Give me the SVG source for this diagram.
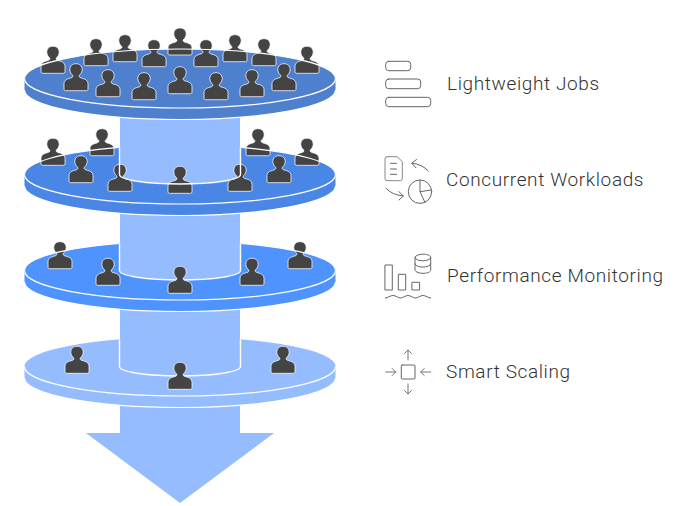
<svg xmlns="http://www.w3.org/2000/svg" width="697" height="506" viewBox="0 0 697 506">
<style>
.p{fill:#444;stroke:#fff;stroke-width:1;stroke-opacity:.75}
.rim{fill:none;stroke:#fff;stroke-width:1.2}
.cyl{fill:#94bcff;stroke:none}
.edge{fill:none;stroke:#fff;stroke-width:1.4}
.ic{fill:none;stroke:#666;stroke-width:1;stroke-linecap:round;stroke-linejoin:round}
.t{font-family:Roboto,"Liberation Sans",sans-serif;font-size:19px;font-weight:300;letter-spacing:.62px;fill:#333}
</style>
<defs>
<path id="person" class="p" d="M-12 -1.500V-7C-12 -11 -8 -12 -5 -12.800C-3.500 -13.200 -3 -14 -3 -15C-5 -16.500 -6.200 -19 -6.200 -21C-6.200 -25 -3.500 -27 0 -27C3.500 -27 6.200 -25 6.200 -21C6.200 -19 5 -16.500 3 -15C3 -14 3.500 -13.200 5 -12.800C8 -12 12 -11 12 -7V-1.500Q12 0 10.500 0H-10.500Q-12 0 -12 -1.500Z"/>
<path id="side" d="M24.500 0V11.500A155.500 29.500 0 0 0 335.500 11.500V0Z"/>
<ellipse id="top" cx="180" cy="0" rx="155.500" ry="29.500"/>
<path id="front" class="rim" d="M24.500 0A155.500 29.500 0 0 0 335.500 0"/>
<path id="bottom" class="rim" d="M24.500 11.500A155.500 29.500 0 0 0 335.500 11.500"/>
<path id="back" class="rim" d="M24.500 0A155.500 29.500 0 0 1 119 -27.100M241 -27.100A155.500 29.500 0 0 1 335.500 0"/>
<path id="shaft" class="edge" d="M119.500 -27.100V0A60.500 9.500 0 0 0 240.500 0V-27.100"/>
</defs>
<g id="arrow"><path fill="#94bcff" d="M120 400H240V433H274L180 503L86 433H120Z"/></g>
<g id="tier-4">
<use href="#side" y="366.500" fill="#94bcff"/><use href="#top" y="366.500" fill="#94bcff"/>
<use href="#front" y="366.500"/><use href="#bottom" y="366.500"/>
<use href="#person" x="77" y="373.300"/><use href="#person" x="283" y="373.300"/>
</g>
<g id="cylinder-3">
<path class="cyl" d="M120 300H240V366.500A60 9 0 0 1 120 366.500Z"/>
<use href="#shaft" y="366.500"/>
<use href="#person" x="180" y="389.300"/>
</g>
<g id="tier-3">
<use href="#side" y="270.500" fill="#4f93ff"/><use href="#top" y="270.500" fill="#4f93ff"/>
<use href="#front" y="270.500"/><use href="#bottom" y="270.500"/>
</g>
<g id="cylinder-2">
<path class="cyl" d="M120 205H240V270.500A60 9 0 0 1 120 270.500Z"/>
</g>
<g id="tier-3-people">
<use href="#person" x="60" y="268.700"/><use href="#person" x="300" y="268.700"/><use href="#person" x="108" y="285.300"/><use href="#person" x="252" y="285.300"/>
<use href="#shaft" y="270.500"/><use href="#back" y="270.500"/>
<use href="#person" x="180" y="293.300"/>
</g>
<g id="tier-2">
<use href="#side" y="174.500" fill="#4a86e5"/><use href="#top" y="174.500" fill="#4a86e5"/>
<use href="#front" y="174.500"/><use href="#bottom" y="174.500"/>
</g>
<g id="cylinder-1">
<path class="cyl" d="M120 105H240V174.500A60 9 0 0 1 120 174.500Z"/>
</g>
<g id="tier-2-people">
<use href="#person" x="53" y="165.300"/><use href="#person" x="102" y="155.700"/><use href="#person" x="258" y="155.700"/><use href="#person" x="307" y="165.300"/><use href="#person" x="81" y="182.700"/><use href="#person" x="279" y="182.700"/><use href="#person" x="120" y="191.300"/><use href="#person" x="240" y="191.300"/><use href="#person" x="180" y="193.300"/>
<use href="#shaft" y="174.500"/><use href="#back" y="174.500"/>
</g>
<g id="tier-1">
<use href="#side" y="78.500" fill="#4f80ce"/><use href="#top" y="78.500" fill="#4f80ce"/>
<use href="#bottom" y="78.500"/>
<use href="#person" x="53" y="73.300"/><use href="#person" x="96" y="65.700"/><use href="#person" x="125" y="61.700"/><use href="#person" x="154" y="66.700"/><use href="#person" x="180" y="55"/><use href="#person" x="206" y="66.700"/><use href="#person" x="235" y="61.700"/><use href="#person" x="264" y="65.700"/><use href="#person" x="307" y="73.300"/>
<use href="#person" x="76" y="90.700"/><use href="#person" x="108" y="96.700"/><use href="#person" x="144" y="99.700"/><use href="#person" x="180" y="93.700"/><use href="#person" x="216" y="99.700"/><use href="#person" x="252" y="96.700"/><use href="#person" x="284" y="90.700"/>
<use href="#front" y="78.500"/>
<path class="rim" d="M24.500 78.500A155.500 29.500 0 0 1 335.500 78.500"/>
</g>
<g id="item-lightweight">
<rect class="ic" x="385.700" y="61.300" width="25" height="9.400" rx="3"/><rect class="ic" x="385.700" y="79" width="35" height="9.700" rx="3"/><rect class="ic" x="385.700" y="97.300" width="45" height="9.400" rx="3"/>
<text class="t" x="447" y="90">Lightweight Jobs</text>
</g>
<g id="item-concurrent">
<path class="ic" d="M387 156.700H397L402.300 161.500V178.700Q402.300 180.700 400.300 180.700H387Q385 180.700 385 178.700V158.700Q385 156.700 387 156.700Z" style="stroke:#888"/>
<path class="ic" d="M390.500 163.300H396.500M390.500 169H396.500M390.500 174.300H396.500"/>
<path class="ic" d="M428.300 171Q422 164 412 163.300M416.500 159.500L411.700 163.300L416 167.800"/>
<path class="ic" d="M386 188.300Q392 195 403.300 196M398.800 191.500L403.300 196L399 200"/>
<circle class="ic" cx="420" cy="191.700" r="11.700"/><path class="ic" d="M420 180V191.700L431 190M420 191.700L425 202.500"/>
<text class="t" x="446" y="186">Concurrent Workloads</text>
</g>
<g id="item-performance">
<rect class="ic" x="385.300" y="265" width="7" height="25"/><rect class="ic" x="398.700" y="274.300" width="7" height="15.700"/><rect class="ic" x="412.300" y="282.300" width="7.300" height="7.700"/>
<path class="ic" d="M415 257.500C415 253 430.700 253 430.700 257.500V270C430.700 274.500 415 274.500 415 270ZM415 257.500C415 262 430.700 262 430.700 257.500M415 263.800C415 268.300 430.700 268.300 430.700 263.800"/>
<path class="ic" d="M385.300 298C388 298 390 295.500 393 295.500S398 298 400.500 298S405 295.500 408 295.500S413 298 415.500 298S420 295.500 423 295.500S428 298 430.700 298"/>
<text class="t" x="447" y="282">Performance Monitoring</text>
</g>
<g id="item-smart">
<rect class="ic" x="401.300" y="365" width="13.700" height="14" rx="1"/>
<path class="ic" style="stroke:#777" d="M408 360V350M404.500 353.500L408 350L411.500 353.500M408 384V394M404.500 390.500L408 394L411.500 390.500M385.700 372H395.700M392.200 368.500L395.700 372L392.200 375.500M430.700 372H420.700M424.200 368.500L420.700 372L424.200 375.500"/>
<text class="t" x="446" y="378">Smart Scaling</text>
</g>
</svg>
